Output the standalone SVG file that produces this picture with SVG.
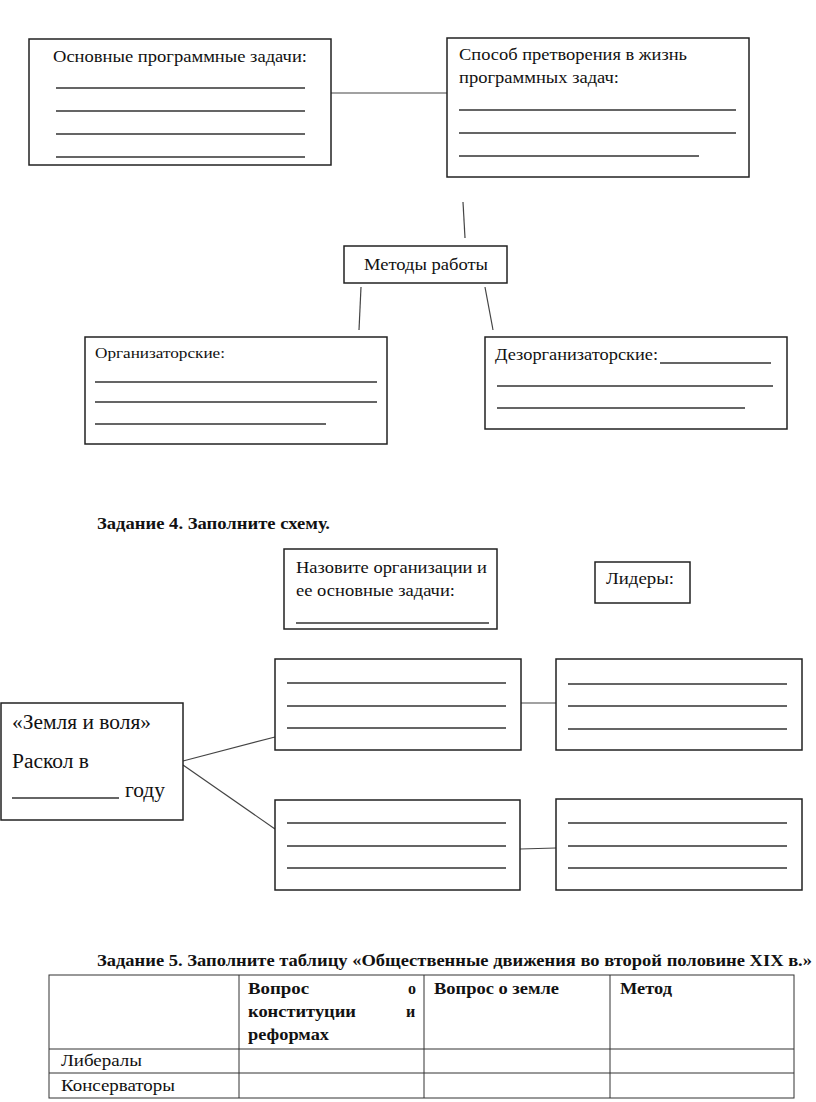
<svg xmlns="http://www.w3.org/2000/svg" width="816" height="1102" viewBox="0 0 816 1102">
<style>
.box{fill:#fff;stroke:#222;stroke-width:1.5}
.ln{stroke:#333;stroke-width:1.3;fill:none}
.con{stroke:#444;stroke-width:1.2;fill:none}
.t{font-family:"Liberation Serif","Times New Roman",serif;font-size:17px;fill:#111}
.s{font-size:15px}
.b{font-weight:bold;font-size:16px}
.l{font-size:20px}
</style>
<rect width="816" height="1102" fill="#fff"/>
<g id="connectors">
<line class="con" x1="322" y1="93" x2="447" y2="93"/>
<line class="con" x1="463" y1="202" x2="465" y2="238"/>
<line class="con" x1="361" y1="287" x2="359" y2="330"/>
<line class="con" x1="485" y1="287" x2="493" y2="330"/>
<line class="con" x1="183" y1="761" x2="275" y2="737"/>
<line class="con" x1="183" y1="765" x2="275" y2="829"/>
<line class="con" x1="521" y1="703" x2="556" y2="703"/>
<line class="con" x1="520" y1="849" x2="556" y2="848"/>
</g>
<g id="n1">
<rect class="box" x="29" y="39" width="302" height="126"/>
<text class="t" x="53" y="62" textLength="254" lengthAdjust="spacingAndGlyphs">Основные программные задачи:</text>
<path class="ln" d="M56 88H305M56 111H305M56 134H305M56 157H305"/>
</g>
<g id="n2">
<rect class="box" x="447" y="38" width="302" height="139"/>
<text class="t" x="459" y="60" textLength="228" lengthAdjust="spacingAndGlyphs">Способ претворения в жизнь</text>
<text class="t" x="459" y="83" textLength="160" lengthAdjust="spacingAndGlyphs">программных задач:</text>
<path class="ln" d="M459 110H736M459 133H736M459 156H699"/>
</g>
<g id="n3">
<rect class="box" x="344" y="246" width="163" height="37"/>
<text class="t" x="364" y="270" textLength="124" lengthAdjust="spacingAndGlyphs">Методы работы</text>
</g>
<g id="n4">
<rect class="box" x="85" y="337" width="302" height="107"/>
<text class="t s" x="95" y="358" textLength="130" lengthAdjust="spacingAndGlyphs">Организаторские:</text>
<path class="ln" d="M95 382H377M95 402H377M95 424H326"/>
</g>
<g id="n5">
<rect class="box" x="485" y="337" width="302" height="92"/>
<text class="t" x="495" y="360" textLength="163" lengthAdjust="spacingAndGlyphs">Дезорганизаторские:</text>
<path class="ln" d="M660 363H771M497 386H773M497 408H745"/>
</g>
<text class="t b" x="97" y="529" textLength="233" lengthAdjust="spacingAndGlyphs">Задание 4. Заполните схему.</text>
<g id="n6">
<rect class="box" x="284" y="549" width="213" height="80"/>
<text class="t" x="296" y="573" textLength="191" lengthAdjust="spacingAndGlyphs">Назовите организации и</text>
<text class="t" x="296" y="596" textLength="159" lengthAdjust="spacingAndGlyphs">ее основные задачи:</text>
<path class="ln" d="M296 623H489"/>
</g>
<g id="n7">
<rect class="box" x="595" y="562" width="95" height="41"/>
<text class="t" x="606" y="584" textLength="68" lengthAdjust="spacingAndGlyphs">Лидеры:</text>
</g>
<g id="n8">
<rect class="box" x="1" y="703" width="182" height="117"/>
<text class="t l" x="12" y="729" textLength="139" lengthAdjust="spacingAndGlyphs">«Земля и воля»</text>
<text class="t l" x="12" y="768" textLength="77" lengthAdjust="spacingAndGlyphs">Раскол в</text>
<path class="ln" d="M12 798H119"/>
<text class="t l" x="125" y="797" textLength="40" lengthAdjust="spacingAndGlyphs">году</text>
</g>
<g id="n9">
<rect class="box" x="275" y="659" width="246" height="91"/>
<path class="ln" d="M287 683H506M287 706H506M287 728H506"/>
</g>
<g id="n10">
<rect class="box" x="275" y="800" width="245" height="90"/>
<path class="ln" d="M287 823H506M287 846H506M287 868H506"/>
</g>
<g id="n11">
<rect class="box" x="556" y="659" width="246" height="91"/>
<path class="ln" d="M568 684H787M568 706H787M568 729H787"/>
</g>
<g id="n12">
<rect class="box" x="556" y="799" width="246" height="91"/>
<path class="ln" d="M568 823H787M568 846H787M568 868H787"/>
</g>
<text class="t b" x="97" y="966" textLength="715" lengthAdjust="spacingAndGlyphs">Задание 5. Заполните таблицу «Общественные движения во второй половине XIX в.»</text>
<g id="table">
<rect x="49" y="975" width="745" height="123" fill="none" stroke="#333" stroke-width="1"/>
<path d="M239 975V1098M424 975V1098M610 975V1098M49 1049H794M49 1073H794" stroke="#333" stroke-width="1" fill="none"/>
<text class="t b" x="248" y="994" textLength="61" lengthAdjust="spacingAndGlyphs">Вопрос</text>
<text class="t b" x="408" y="994">о</text>
<text class="t b" x="248" y="1017" textLength="108" lengthAdjust="spacingAndGlyphs">конституции</text>
<text class="t b" x="406" y="1017">и</text>
<text class="t b" x="248" y="1040" textLength="81" lengthAdjust="spacingAndGlyphs">реформах</text>
<text class="t b" x="434" y="994" textLength="125" lengthAdjust="spacingAndGlyphs">Вопрос о земле</text>
<text class="t b" x="620" y="994" textLength="52" lengthAdjust="spacingAndGlyphs">Метод</text>
<text class="t" x="61" y="1066" textLength="81" lengthAdjust="spacingAndGlyphs">Либералы</text>
<text class="t" x="61" y="1091" textLength="114" lengthAdjust="spacingAndGlyphs">Консерваторы</text>
</g>
</svg>
